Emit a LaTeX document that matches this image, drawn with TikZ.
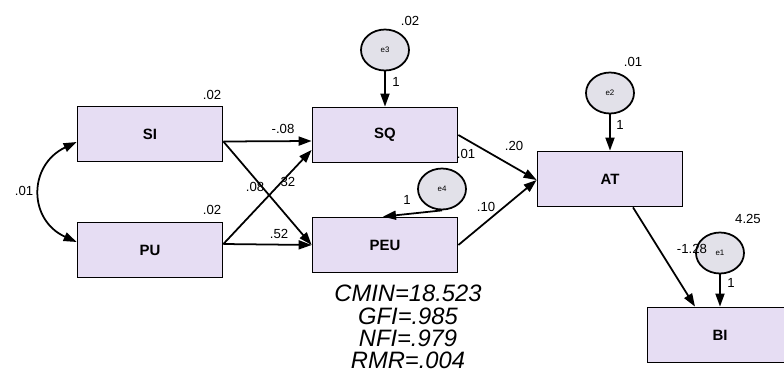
\documentclass[tikz,border=0pt]{standalone}
\usepackage{fontspec}
\setmainfont{Liberation Sans}
\usetikzlibrary{arrows.meta,shapes.geometric}
\definecolor{boxfill}{RGB}{230,221,243}
\definecolor{errfill}{RGB}{226,225,233}

\begin{document}
\begin{tikzpicture}[x=0.2mm, y=-0.2mm,
    var/.style={draw, line width=1pt, fill=boxfill, minimum width=29mm, minimum height=11mm,
        font=\fontsize{8.5}{9}\selectfont\bfseries},
    err/.style={draw, line width=1pt, ellipse, fill=errfill, minimum width=9.6mm, minimum height=8.2mm,
        inner sep=0pt, font=\fontsize{4.5}{5}\selectfont},
    effect/.style={line width=1pt, -{Triangle[length=2.6mm, width=1.8mm]}},
    val/.style={font=\fontsize{7.5}{8}\selectfont, inner sep=0.5pt},
    fitstat/.style={font=\fontsize{13.5}{12.6}\selectfont\itshape, align=center, inner sep=0pt}]
    \useasboundingbox (0,0) rectangle (784,374);
    % observed variables
    \node[var] (SI) at (150,134) {SI};
    \node[var] (PU) at (150,250) {PU};
    \node[var] (SQ) at (385,135) {SQ};
    \node[var] (PEU) at (385,245) {PEU};
    \node[var] (AT) at (610,179) {AT};
    \node[var] (BI) at (720,335) {BI};
    % error terms
    \node[err] (e3) at (385,50) {e3};
    \node[err] (e4) at (442,189) {e4};
    \node[err] (e2) at (610,93) {e2};
    \node[err] (e1) at (720,253) {e1};
    % end points on the box sides
    \coordinate (SIo) at ([yshift=-1.5mm]SI.east);
    \coordinate (PUo) at ([yshift=1.2mm]PU.east);
    \coordinate (SQa) at ([yshift=-1.2mm]SQ.west);
    \coordinate (SQb) at ([yshift=-3mm]SQ.west);
    \coordinate (PEUa) at ([yshift=0mm]PEU.west);
    \coordinate (ATa) at ([yshift=-0.2mm]AT.west);
    \coordinate (ATo) at ([xshift=4.6mm]AT.south);
    \coordinate (BIa) at ([xshift=-5mm]BI.north);
    \coordinate (SIc) at ([yshift=-1.6mm]SI.west);
    \coordinate (PUc) at ([yshift=1.6mm]PU.west);
    % paths
    \draw[effect] (SIo) -- (SQa);
    \draw[effect] (SIo) -- (PEUa);
    \draw[effect] (PUo) -- (SQb);
    \draw[effect] (PUo) -- (PEUa);
    \draw[effect] (SQ.east) -- (ATa);
    \draw[effect] (PEU.east) -- (ATa);
    \draw[effect] (ATo) -- (BIa);
    \draw[effect] (e3) -- (SQ.north);
    \draw[effect] (e2) -- (AT.north);
    \draw[effect] (e1) -- (BI.north);
    \draw[effect] (e4.south) -- ([xshift=-0.4mm]PEU.north);
    \draw[line width=1pt, {Triangle[length=2.6mm, width=1.8mm]}-{Triangle[length=2.6mm, width=1.8mm]}]
        (SIc) .. controls (28,165) and (28,220) .. (PUc);
    % estimates
    \node[val] at (212,95) {.02};
    \node[val] at (212,210) {.02};
    \node[val] at (24,191) {.01};
    \node[val] at (283,129) {-.08};
    \node[val] at (255,187) {.08};
    \node[val] at (286,182) {.32};
    \node[val] at (279,234) {.52};
    \node[val] at (410,21) {.02};
    \node[val] at (396,82) {1};
    \node[val] at (466,154) {.01};
    \node[val] at (407,200) {1};
    \node[val] at (486,207) {.10};
    \node[val] at (514,146) {.20};
    \node[val] at (633,62) {.01};
    \node[val] at (620,125) {1};
    \node[val] at (748,219) {4.25};
    \node[val] at (692,249) {-1.28};
    \node[val] at (731,283) {1};
    % fit indices
    \node[fitstat] (stats) at (408,327) {CMIN=18.523\\GFI=.985\\NFI=.979\\RMR=.004};
\end{tikzpicture}
\end{document}
